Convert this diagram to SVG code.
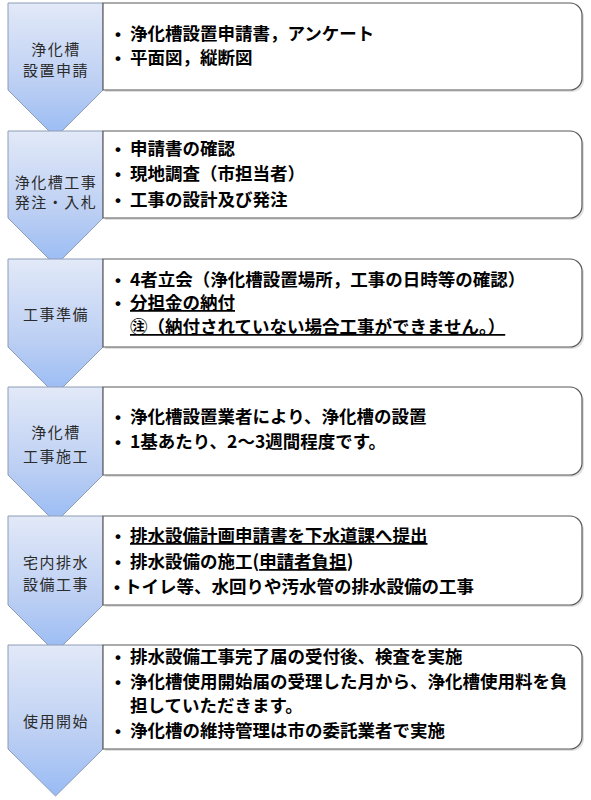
<svg xmlns="http://www.w3.org/2000/svg" width="591" height="800" viewBox="0 0 591 800">
<defs>
<linearGradient id="chev" x1="0" y1="0" x2="0" y2="1">
<stop offset="0" stop-color="#e2e9f8"/>
<stop offset="0.6" stop-color="#bccff3"/>
<stop offset="1" stop-color="#98bbf4"/>
</linearGradient>
</defs>
<style>
.chev{fill:url(#chev);stroke:#8e9cb6;stroke-width:1}
.box{fill:#ffffff;stroke:#595959;stroke-width:1.2}
.shadow{fill:#000;opacity:0.12}
.lab{font-family:"Noto Sans CJK JP","Noto Sans CJK SC",sans-serif;font-size:15px;fill:#2b2b2b;text-anchor:middle;letter-spacing:1.5px}
.txt{font-family:"Noto Sans CJK JP","Noto Sans CJK SC",sans-serif;font-size:17.5px;font-weight:bold;fill:#000}
.bul{font-family:"Liberation Sans",sans-serif;font-size:17px;font-weight:bold;fill:#000}
.u{text-decoration:underline}
</style>
<rect width="591" height="800" fill="#ffffff"/>

<g id="step1">
<path class="chev" d="M8,3 H103 V90 L55.5,137.5 L8,90 Z"/>
<path class="shadow" d="M105,5 H571 A12,12 0 0 1 584,17 V81 A12,12 0 0 1 572,92 H105 Z"/>
<path class="box" d="M103,3 H570 A12,12 0 0 1 582,15 V78 A12,12 0 0 1 570,90 H103 Z"/>
<text class="lab" x="56" y="55">浄化槽</text>
<text class="lab" x="56" y="75.5">設置申請</text>
<text class="bul" x="115" y="40">•</text>
<text class="txt" x="130" y="40">浄化槽設置申請書，アンケート</text>
<text class="bul" x="115" y="64">•</text>
<text class="txt" x="130" y="64">平面図，縦断図</text>
</g>

<g id="step2">
<path class="chev" d="M8,131 H103 V218 L55.5,265.5 L8,218 Z"/>
<path class="shadow" d="M105,133 H571 A12,12 0 0 1 584,145 V209 A12,12 0 0 1 572,220 H105 Z"/>
<path class="box" d="M103,131 H570 A12,12 0 0 1 582,143 V206 A12,12 0 0 1 570,218 H103 Z"/>
<text class="lab" x="56" y="187.5">浄化槽工事</text>
<text class="lab" x="56" y="207.5">発注・入札</text>
<text class="bul" x="115" y="154.5">•</text>
<text class="txt" x="130" y="154.5">申請書の確認</text>
<text class="bul" x="115" y="180">•</text>
<text class="txt" x="130" y="180">現地調査（市担当者）</text>
<text class="bul" x="115" y="205.5">•</text>
<text class="txt" x="130" y="205.5">工事の設計及び発注</text>
</g>

<g id="step3">
<path class="chev" d="M8,259 H103 V347 L55.5,394.5 L8,347 Z"/>
<path class="shadow" d="M105,261 H571 A12,12 0 0 1 584,273 V338 A12,12 0 0 1 572,349 H105 Z"/>
<path class="box" d="M103,259 H570 A12,12 0 0 1 582,271 V335 A12,12 0 0 1 570,347 H103 Z"/>
<text class="lab" x="56" y="319.5">工事準備</text>
<text class="bul" x="115" y="285.5">•</text>
<text class="txt" x="130" y="285.5">4者立会（浄化槽設置場所，工事の日時等の確認）</text>
<text class="bul" x="115" y="309">•</text>
<text class="txt u" x="130" y="309">分担金の納付</text>
<text class="txt u" x="130" y="333">㊟（納付されていない場合工事ができません。）</text>
</g>

<g id="step4">
<path class="chev" d="M8,387 H103 V475 L55.5,522.5 L8,475 Z"/>
<path class="shadow" d="M105,389 H571 A12,12 0 0 1 584,401 V466 A12,12 0 0 1 572,477 H105 Z"/>
<path class="box" d="M103,387 H570 A12,12 0 0 1 582,399 V463 A12,12 0 0 1 570,475 H103 Z"/>
<text class="lab" x="56" y="438">浄化槽</text>
<text class="lab" x="56" y="461.5">工事施工</text>
<text class="bul" x="115" y="423">•</text>
<text class="txt" x="130" y="423">浄化槽設置業者により、浄化槽の設置</text>
<text class="bul" x="115" y="448">•</text>
<text class="txt" x="130" y="448">1基あたり、2〜3週間程度です。</text>
</g>

<g id="step5">
<path class="chev" d="M8,516 H103 V605 L55.5,652.5 L8,605 Z"/>
<path class="shadow" d="M105,518 H571 A12,12 0 0 1 584,530 V596 A12,12 0 0 1 572,607 H105 Z"/>
<path class="box" d="M103,516 H570 A12,12 0 0 1 582,528 V593 A12,12 0 0 1 570,605 H103 Z"/>
<text class="lab" x="56" y="567.5">宅内排水</text>
<text class="lab" x="56" y="589.5">設備工事</text>
<text class="bul" x="115" y="542">•</text>
<text class="txt u" x="130" y="542">排水設備計画申請書を下水道課へ提出</text>
<text class="bul" x="115" y="568">•</text>
<text class="txt" x="130" y="568">排水設備の施工(<tspan class="u">申請者負担</tspan>)</text>
<text class="bul" x="114" y="593">•</text>
<text class="txt" x="124" y="593">トイレ等、水回りや汚水管の排水設備の工事</text>
</g>

<g id="step6">
<path class="chev" d="M8,645 H103 V749 L55.5,796 L8,749 Z"/>
<path class="shadow" d="M105,647 H571 A12,12 0 0 1 584,659 V740 A12,12 0 0 1 572,751 H105 Z"/>
<path class="box" d="M103,645 H570 A12,12 0 0 1 582,657 V737 A12,12 0 0 1 570,749 H103 Z"/>
<text class="lab" x="56" y="727">使用開始</text>
<text class="bul" x="115" y="663">•</text>
<text class="txt" x="130" y="663">排水設備工事完了届の受付後、検査を実施</text>
<text class="bul" x="115" y="687.5">•</text>
<text class="txt" x="130" y="687.5">浄化槽使用開始届の受理した月から、浄化槽使用料を負</text>
<text class="txt" x="130" y="712">担していただきます。</text>
<text class="bul" x="115" y="736.5">•</text>
<text class="txt" x="130" y="736.5">浄化槽の維持管理は市の委託業者で実施</text>
</g>
</svg>
